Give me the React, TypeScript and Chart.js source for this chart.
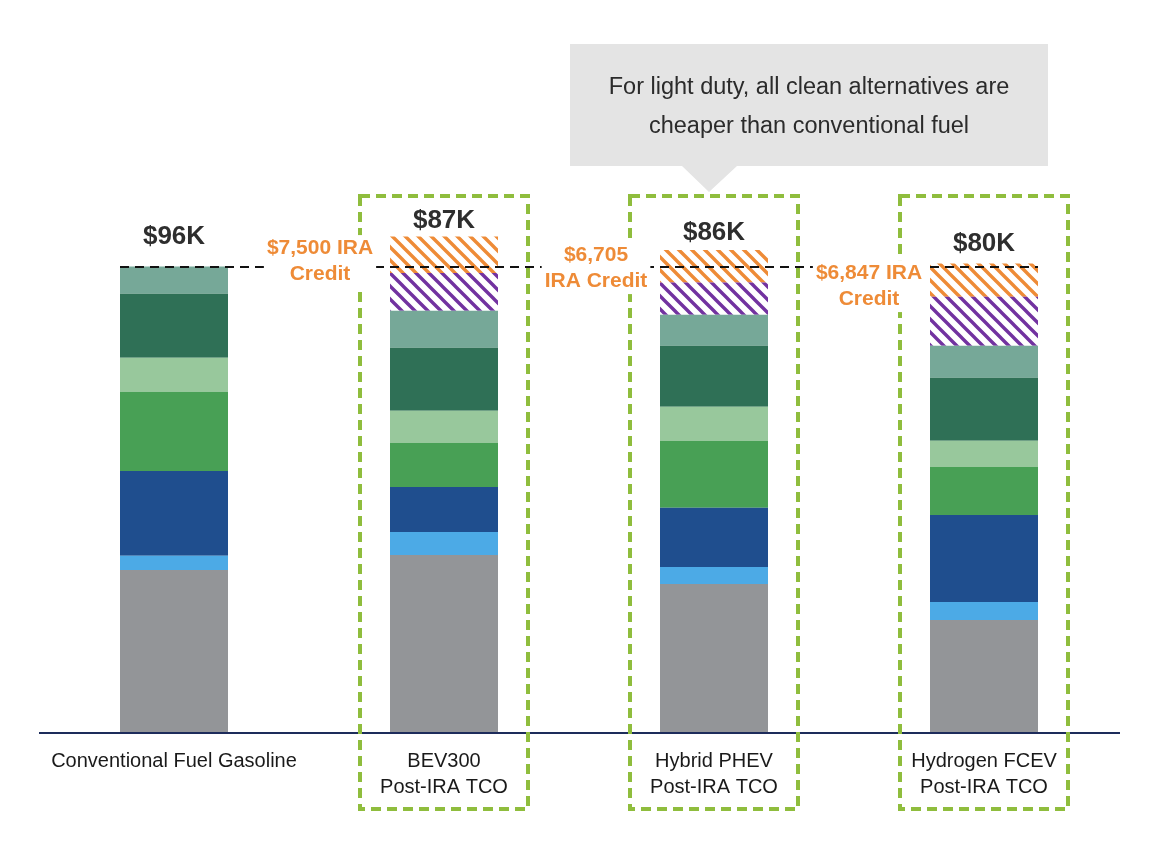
import { useEffect, useRef } from "react";
import { Chart, registerables } from "chart.js";

Chart.register(...registerables);

// ---------- data ----------
const categories: string[][] = [
  ["Conventional Fuel Gasoline"],
  ["BEV300", "Post-IRA TCO"],
  ["Hybrid PHEV", "Post-IRA TCO"],
  ["Hydrogen FCEV", "Post-IRA TCO"],
];
const totalLabels = ["$96K", "$87K", "$86K", "$80K"];

// stacked components in $K, bottom to top
const segGray = [33.6, 36.7, 30.7, 23.3];
const segLightBlue = [2.9, 4.7, 3.5, 3.7];
const segDarkBlue = [17.5, 9.3, 12.2, 17.9];
const segGreen = [16.3, 9.1, 13.8, 9.9];
const segLightGreen = [7.0, 6.6, 7.0, 5.4];
const segDarkGreen = [13.2, 13.0, 12.6, 13.0];
const segTeal = [5.6, 7.6, 6.4, 6.6];
const segPurpleHatch = [0, 7.8, 6.6, 10.1];
const iraCredit = [0, 7.5, 6.705, 6.847];

const iraLabels: (string[] | null)[] = [
  null,
  ["$7,500 IRA", "Credit"],
  ["$6,705", "IRA Credit"],
  ["$6,847 IRA", "Credit"],
];
const referenceValue = 96;
const calloutLines = [
  "For light duty, all clean alternatives are",
  "cheaper than conventional fuel",
];

// ---------- styles ----------
const FONT = '"Liberation Sans", Arial, Helvetica, sans-serif';
const ORANGE = "#ee8b37";
const PURPLE = "#7232a0";
const BOX_GREEN = "#8fbd3d";

function makeHatch(color: string): CanvasPattern | string {
  const s = 13;
  const c = document.createElement("canvas");
  c.width = s;
  c.height = s;
  const g = c.getContext("2d");
  if (!g) return color;
  g.fillStyle = "#ffffff";
  g.fillRect(0, 0, s, s);
  g.strokeStyle = color;
  g.lineWidth = 3.4;
  g.lineCap = "square";
  g.beginPath();
  g.moveTo(-4, -4);
  g.lineTo(s + 4, s + 4);
  g.moveTo(-4, s - 4);
  g.lineTo(4, s + 4);
  g.moveTo(s - 4, -4);
  g.lineTo(s + 4, 4);
  g.stroke();
  const p = g.createPattern(c, "repeat");
  return p || color;
}

const annotationPlugin = {
  id: "annotations",
  afterDatasetsDraw(chart: any) {
    const ctx: CanvasRenderingContext2D = chart.ctx;
    const yScale = chart.scales.y;
    const area = chart.chartArea;
    const meta0 = chart.getDatasetMeta(0);
    const bars = meta0.data.map((el: any) => ({ x: el.x, w: el.width }));
    const y0 = yScale.getPixelForValue(0);
    const yRef = yScale.getPixelForValue(referenceValue);

    ctx.save();

    // baseline
    ctx.strokeStyle = "#1d2c5b";
    ctx.lineWidth = 2;
    ctx.beginPath();
    ctx.moveTo(area.left, y0);
    ctx.lineTo(area.right + 1, y0);
    ctx.stroke();

    // reference dashed line
    const first = bars[0];
    const last = bars[bars.length - 1];
    ctx.strokeStyle = "#111111";
    ctx.lineWidth = 2;
    ctx.setLineDash([9, 6]);
    ctx.beginPath();
    ctx.moveTo(first.x - first.w / 2, yRef);
    ctx.lineTo(last.x + last.w / 2, yRef);
    ctx.stroke();
    ctx.setLineDash([]);

    // green dashed boxes
    ctx.strokeStyle = BOX_GREEN;
    ctx.lineWidth = 4;
    ctx.setLineDash([10, 6]);
    for (let i = 1; i < bars.length; i++) {
      const b = bars[i];
      ctx.strokeRect(b.x - 84, 196, 168, 613);
    }
    ctx.setLineDash([]);

    ctx.textAlign = "center";
    ctx.textBaseline = "middle";

    // IRA credit labels
    const iraDx = [0, -70, -64, -61];
    const iraDy = [0, -19, -12, 6];
    ctx.font = `bold 21px ${FONT}`;
    iraLabels.forEach((lines, i) => {
      if (!lines) return;
      const b = bars[i];
      const cx = b.x - b.w / 2 + iraDx[i];
      const cy = yRef + iraDy[i];
      const widths = lines.map((l) => ctx.measureText(l).width);
      const maxW = Math.max(...widths);
      ctx.fillStyle = "#ffffff";
      ctx.fillRect(cx - maxW / 2 - 3, cy - 13, maxW + 6, 26 * (lines.length - 1) + 26);
      ctx.fillStyle = ORANGE;
      lines.forEach((l, j) => ctx.fillText(l, cx, cy + j * 26));
    });

    // total labels
    const totDy = [30, 16, 17, 20];
    ctx.font = `bold 26px ${FONT}`;
    ctx.fillStyle = "#2e2e2e";
    totalLabels.forEach((t, i) => {
      const b = bars[i];
      let top = y0;
      for (let d = 0; d < chart.data.datasets.length; d++) {
        const el = chart.getDatasetMeta(d).data[i];
        if (chart.data.datasets[d].data[i] > 0) top = Math.min(top, el.y);
      }
      ctx.fillText(t, b.x, top - totDy[i]);
    });

    // category labels
    ctx.font = `20px ${FONT}`;
    ctx.fillStyle = "#1a1a1a";
    categories.forEach((lines, i) => {
      lines.forEach((l, j) => ctx.fillText(l, bars[i].x, y0 + 28 + j * 26));
    });

    // callout
    ctx.fillStyle = "#e4e4e4";
    ctx.beginPath();
    ctx.moveTo(570, 44);
    ctx.lineTo(1048, 44);
    ctx.lineTo(1048, 166);
    ctx.lineTo(737, 166);
    ctx.lineTo(709, 192);
    ctx.lineTo(682, 166);
    ctx.lineTo(570, 166);
    ctx.closePath();
    ctx.fill();
    ctx.fillStyle = "#2b2b2b";
    ctx.font = `23.5px ${FONT}`;
    calloutLines.forEach((l, j) => ctx.fillText(l, 809, 88 + j * 39));

    ctx.restore();
  },
};

export default function App() {
  const ref = useRef<HTMLCanvasElement | null>(null);

  useEffect(() => {
    if (!ref.current) return;
    const orangeHatch = makeHatch(ORANGE);
    const purpleHatch = makeHatch(PURPLE);
    const labels = categories.map((c) => c.join(" "));
    const mk = (label: string, data: number[], color: any) => ({
      label,
      data,
      backgroundColor: color,
      borderWidth: 0,
      barPercentage: 0.4,
      categoryPercentage: 1.0,
    });
    const chart = new Chart(ref.current, {
      type: "bar",
      data: {
        labels,
        datasets: [
          mk("Vehicle", segGray, "#939598"),
          mk("Light blue", segLightBlue, "#4caae6"),
          mk("Dark blue", segDarkBlue, "#1f4e8e"),
          mk("Green", segGreen, "#48a055"),
          mk("Light green", segLightGreen, "#98c89c"),
          mk("Dark green", segDarkGreen, "#2f7056"),
          mk("Teal", segTeal, "#76a898"),
          mk("Other credit", segPurpleHatch, purpleHatch),
          mk("IRA credit", iraCredit, orangeHatch),
        ],
      },
      options: {
        responsive: false,
        animation: false,
        layout: { padding: { left: 39, right: 37, top: 5, bottom: 133 } },
        plugins: { legend: { display: false }, tooltip: { enabled: false } },
        scales: {
          x: { display: false, stacked: true },
          y: { display: false, stacked: true, min: 0, max: 150 },
        },
      },
      plugins: [annotationPlugin],
    });
    return () => chart.destroy();
  }, []);

  return (
    <div style={{ position: "absolute", left: 0, top: 0, width: 1156, height: 866, background: "#fff" }}>
      <canvas ref={ref} width={1156} height={866} />
    </div>
  );
}
